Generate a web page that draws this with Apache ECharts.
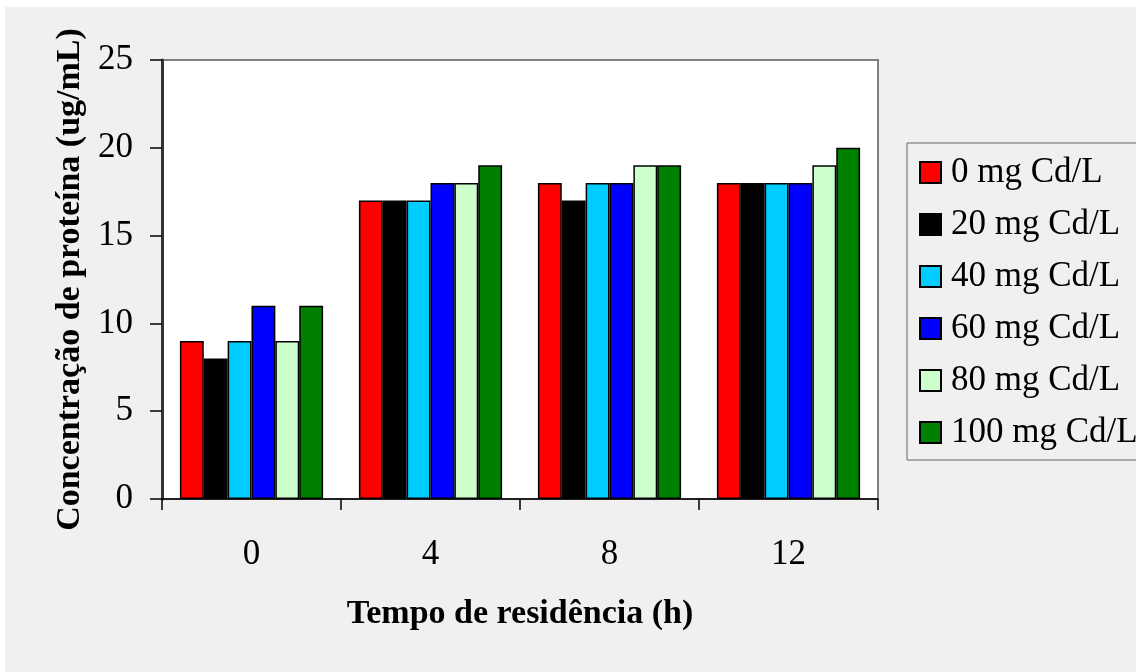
<!DOCTYPE html>
<html>
<head>
<meta charset="utf-8">
<script src="https://cdn.jsdelivr.net/npm/echarts@6/dist/echarts.min.js"></script>
<style>
html,body{margin:0;padding:0;background:#fff;}
#frame{position:absolute;left:5px;top:7px;width:1131px;height:665px;background:#f0f0f0;}
#chart{position:absolute;left:-5px;top:-7px;width:1136px;height:672px;}
</style>
</head>
<body>
<div id="frame"><div id="chart"></div></div>
<script>
const categories = ['0', '4', '8', '12'];
const seriesNames = ['0 mg Cd/L', '20 mg Cd/L', '40 mg Cd/L', '60 mg Cd/L', '80 mg Cd/L', '100 mg Cd/L'];
const s0 = [9, 17, 18, 18];
const s20 = [8, 17, 17, 18];
const s40 = [9, 17, 18, 18];
const s60 = [11, 18, 18, 18];
const s80 = [9, 18, 19, 19];
const s100 = [11, 19, 19, 20];
const yTicks = [0, 5, 10, 15, 20, 25];
const colors = ['#ff0000', '#000000', '#00ccff', '#0000ff', '#ccffcc', '#008000'];
const values = [s0, s20, s40, s60, s80, s100];

const serif = 'Liberation Serif';
const chart = echarts.init(document.getElementById('chart'));
chart.setOption({
  backgroundColor: 'transparent',
  animation: false,
  color: colors,
  grid: {
    left: 162, top: 60, width: 716, height: 439,
    show: true, backgroundColor: '#ffffff', borderColor: '#808080', borderWidth: 2
  },
  legend: {
    orient: 'vertical',
    left: 907, top: 143,
    padding: [12, 40, 10, 12],
    itemWidth: 21, itemHeight: 21, itemGap: 17,
    icon: 'rect',
    borderColor: '#666', borderWidth: 1,
    textStyle: { fontFamily: serif, fontSize: 35, lineHeight: 35, color: '#000', padding: [0, 0, 0, 5] },
    data: seriesNames
  },
  xAxis: {
    type: 'category',
    data: categories,
    name: 'Tempo de residência (h)',
    nameLocation: 'middle',
    nameGap: 98,
    nameTextStyle: { fontFamily: serif, fontSize: 34, fontWeight: 'bold', color: '#000' },
    axisLine: { lineStyle: { color: '#000', width: 1.5 } },
    axisTick: { show: true, length: 11, lineStyle: { color: '#000', width: 1.5 } },
    axisLabel: { fontFamily: serif, fontSize: 35, color: '#000', margin: 38 }
  },
  yAxis: {
    type: 'value',
    min: 0, max: 25, interval: 5,
    name: 'Concentração de proteína (ug/mL)',
    nameLocation: 'middle',
    nameGap: 72,
    nameTextStyle: { fontFamily: serif, fontSize: 34, fontWeight: 'bold', color: '#000' },
    axisLine: { show: true, lineStyle: { color: '#333', width: 3 } },
    axisTick: { show: true, inside: false, length: 12, lineStyle: { color: '#000', width: 1.5 } },
    splitLine: { show: false },
    axisLabel: { fontFamily: serif, fontSize: 35, color: '#000', margin: 29 }
  },
  series: seriesNames.map((n, i) => ({
    name: n,
    type: 'bar',
    data: values[i],
    barGap: '0%',
    barCategoryGap: '20%',
    itemStyle: { color: colors[i], borderColor: '#000', borderWidth: 1.5 }
  }))
});
</script>
</body>
</html>
